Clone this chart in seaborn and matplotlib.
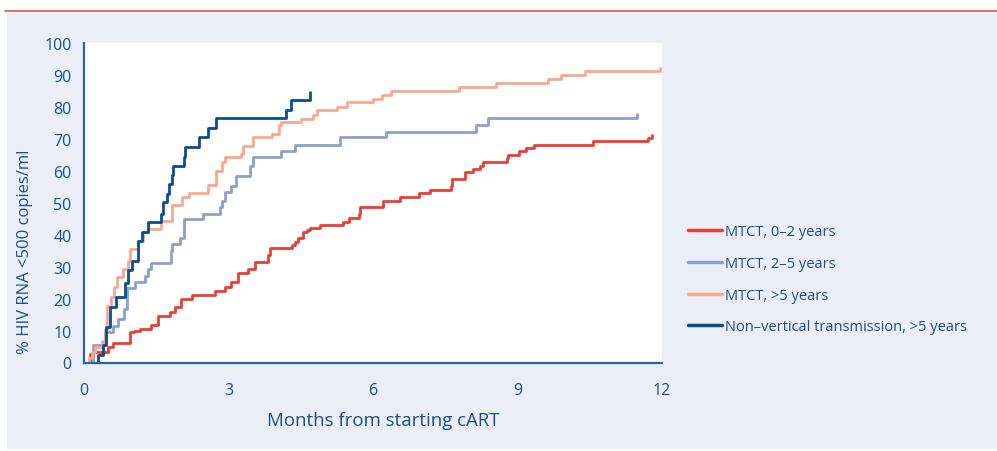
import numpy as np
import pandas as pd
import matplotlib
matplotlib.use('Agg')
import matplotlib.pyplot as plt
from matplotlib.lines import Line2D
from matplotlib.patches import Rectangle
import seaborn as sns

# Kaplan-Meier style step data (months, % suppressed)
mtct_02_months = [0, 0.12, 0.19, 0.50, 0.61, 0.95, 1.03, 1.16, 1.40, 1.54, 1.78, 1.89, 2.01, 2.25,
                  2.72, 2.93, 3.06, 3.20, 3.41, 3.55, 3.82, 3.87, 4.31, 4.38, 4.45, 4.55, 4.62,
                  4.69, 4.91, 5.37, 5.50, 5.71, 5.73, 6.20, 6.21, 6.56, 6.96, 7.18, 7.61, 7.63,
                  7.91, 8.08, 8.22, 8.28, 8.79, 8.80, 9.03, 9.17, 9.34, 10.57, 11.71, 11.79]
mtct_02_pct = [0, 2.7, 3.2, 4.7, 6.1, 9.4, 10.0, 10.5, 11.7, 14.6, 15.8, 17.2, 19.8, 21.1,
               22.4, 23.5, 25.3, 28.0, 29.2, 31.3, 33.5, 35.7, 36.7, 37.8, 38.9, 40.8, 41.5,
               41.9, 43.1, 44.0, 45.2, 46.5, 48.5, 49.5, 50.6, 51.8, 52.9, 53.9, 55.3, 57.3,
               59.4, 60.5, 61.5, 62.6, 63.9, 64.9, 66.0, 66.9, 68.0, 69.1, 70.1, 71.1]

mtct_25_months = [0, 0.18, 0.44, 0.61, 0.71, 0.84, 0.89, 1.06, 1.27, 1.33, 1.40, 1.80, 1.83, 1.99,
                  2.08, 2.48, 2.82, 2.86, 2.93, 3.05, 3.15, 3.44, 3.50, 4.10, 4.38, 5.31, 6.27,
                  8.13, 8.39, 11.49]
mtct_25_pct = [0, 5.5, 9.4, 11.5, 13.6, 16.7, 23.2, 25.1, 27.1, 29.2, 31.0, 34.9, 37.0, 38.8,
               44.8, 46.4, 48.5, 50.6, 53.2, 55.3, 58.4, 61.5, 64.1, 66.2, 68.1, 70.4, 72.1,
               74.2, 76.3, 77.8]

mtct_5_months = [0, 0.10, 0.16, 0.23, 0.37, 0.44, 0.47, 0.57, 0.63, 0.68, 0.82, 0.92, 0.95, 1.13,
                 1.23, 1.33, 1.60, 1.82, 2.04, 2.18, 2.57, 2.74, 2.86, 2.93, 3.25, 3.31, 3.50,
                 3.91, 4.05, 4.10, 4.50, 4.76, 4.84, 5.26, 5.47, 5.99, 6.18, 6.38, 7.79, 8.55,
                 9.63, 9.90, 10.41, 11.96]
mtct_5_pct = [0, 1.5, 3.2, 4.7, 6.8, 10.5, 17.8, 20.4, 23.5, 26.6, 29.2, 31.8, 35.5, 38.1,
              40.9, 41.7, 44.3, 49.2, 51.8, 53.0, 55.5, 59.9, 62.6, 64.1, 65.2, 67.8, 70.4,
              71.5, 74.2, 75.3, 76.1, 77.3, 78.9, 79.9, 81.3, 82.3, 83.7, 84.7, 86.0, 87.2,
              88.6, 89.9, 91.1, 91.9]

nonvert_months = [0, 0.30, 0.40, 0.46, 0.54, 0.66, 0.85, 0.92, 0.99, 1.13, 1.20, 1.33, 1.60, 1.65,
                  1.72, 1.76, 1.82, 1.84, 2.08, 2.10, 2.39, 2.57, 2.75, 4.20, 4.29, 4.69]
nonvert_pct = [0, 2.3, 5.5, 11.0, 17.5, 20.4, 25.0, 29.0, 31.8, 38.0, 40.9, 43.8, 46.4, 50.1,
               52.7, 55.8, 58.6, 61.3, 64.2, 67.3, 70.4, 73.3, 76.3, 79.0, 82.0, 84.6]

labels = ['MTCT, 0\u20132 years', 'MTCT, 2\u20135 years', 'MTCT, >5 years',
          'Non\u2013vertical transmission, >5 years']
colors = ['#ea3f35', '#8d9fcc', '#f8a88e', '#0c4d8f']

frames = []
for lab, xs, ys in zip(labels,
                       [mtct_02_months, mtct_25_months, mtct_5_months, nonvert_months],
                       [mtct_02_pct, mtct_25_pct, mtct_5_pct, nonvert_pct]):
    frames.append(pd.DataFrame({'months': xs, 'pct': ys, 'group': lab}))
df = pd.concat(frames, ignore_index=True)

sns.set_theme(style='white')
plt.rcParams['font.family'] = ['Open Sans', 'DejaVu Sans']
text_col = '#1b4f8e'
axis_col = '#2a64a6'

fig = plt.figure(figsize=(9.97, 4.52), dpi=100)
fig.patch.set_facecolor('white')
# light panel behind the chart and red rule on top
fig.patches.append(Rectangle((7 / 997, 2 / 452), 990 / 997, 436 / 452, transform=fig.transFigure,
                             facecolor='#eaeef6', edgecolor='none', zorder=-10))
fig.lines.append(Line2D([5 / 997, 1], [1 - 12 / 452, 1 - 12 / 452], transform=fig.transFigure,
                        color='#ee4a42', linewidth=1.2))

ax = fig.add_axes([84 / 997, 1 - 363.5 / 452, 578 / 997, 320 / 452])
ax.set_facecolor('white')
sns.lineplot(data=df, x='months', y='pct', hue='group', hue_order=labels, palette=colors,
             estimator=None, drawstyle='steps-post', linewidth=2.0, legend=False, ax=ax)

ax.set_xlim(0, 12)
ax.set_ylim(0, 100)
ax.set_xticks([0, 3, 6, 9, 12])
ax.set_xticks(np.arange(0, 12.1, 1.5), minor=True)
ax.set_yticks(range(0, 101, 10))
ax.set_xlabel('Months from starting cART', fontsize=13.4, color=text_col)
ax.set_ylabel('% HIV RNA <500 copies/ml', fontsize=12, color=text_col)
ax.xaxis.set_label_coords(0.517, -0.152)
ax.yaxis.set_label_coords(-0.088, 0.35)
ax.tick_params(axis='both', which='both', direction='out', color=axis_col, width=1.2,
               labelcolor=text_col, labelsize=11.5)
ax.tick_params(axis='x', which='both', length=5, pad=9)
ax.tick_params(axis='y', length=5, pad=4)
ax.tick_params(axis='x', which='minor', labelbottom=False)
for side in ['top', 'right']:
    ax.spines[side].set_visible(False)
for side in ['left', 'bottom']:
    ax.spines[side].set_color(axis_col)
    ax.spines[side].set_linewidth(1.6)

handles = [Line2D([], [], color=c, linewidth=2.5) for c in colors]
fig.legend(handles, labels, loc='upper left', bbox_to_anchor=(675 / 997, 1 - 212 / 452),
           frameon=False, fontsize=10.5, labelcolor=text_col, handlelength=2.3,
           handletextpad=0.2, labelspacing=1.15)

fig.savefig('out.png', dpi=100)
